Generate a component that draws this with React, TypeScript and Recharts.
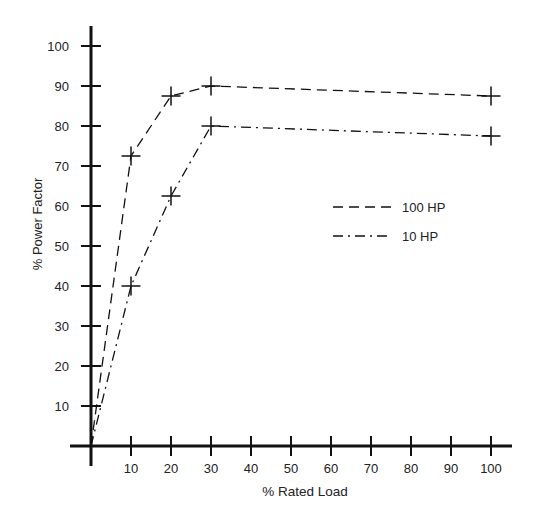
import React from 'react';
import { LineChart, Line, XAxis, YAxis, ReferenceLine, Legend } from 'recharts';

const loads = [0, 10, 20, 30, 100];
const hp100 = [0, 72.5, 87.5, 90, 87.5];
const hp10 = [0, 40, 62.5, 80, 77.5];
const xTicks = [10, 20, 30, 40, 50, 60, 70, 80, 90, 100];
const yTicks = [10, 20, 30, 40, 50, 60, 70, 80, 90, 100];
const seriesNames = ['100 HP', '10 HP'];
const seriesDash = ['10 6', '10 5 2 5'];

const data = loads.map((load, i) => ({ load, hp100: hp100[i], hp10: hp10[i] }));

const font = '"Liberation Sans", Arial, sans-serif';
const ink = '#111';

const PlusDot = (props: any) => {
  const { cx, cy } = props;
  if (cx == null || cy == null) return null;
  return (
    <g>
      <line x1={cx - 9.5} y1={cy} x2={cx + 9.5} y2={cy} stroke={ink} strokeWidth={1.5} />
      <line x1={cx} y1={cy - 9.5} x2={cx} y2={cy + 9.5} stroke={ink} strokeWidth={1.5} />
    </g>
  );
};

const renderLegend = () => (
  <div style={{ fontFamily: font, fontSize: 13, color: '#222' }}>
    {seriesNames.map((name, i) => (
      <div key={name} style={{ display: 'flex', alignItems: 'center', height: 20, marginBottom: 9 }}>
        <svg width={58} height={10} style={{ marginRight: 11 }}>
          <line x1={0} y1={5} x2={58} y2={5} stroke={ink} strokeWidth={1.3} strokeDasharray={seriesDash[i]} />
        </svg>
        <span>{name}</span>
      </div>
    ))}
  </div>
);

const YTitle = (props: any) => {
  const vb = props.viewBox || {};
  const x = (vb.x ?? 0) + 34;
  const y = (vb.y ?? 0) + vb.height / 2 - 22;
  return (
    <text x={x} y={y} transform={`rotate(-90, ${x}, ${y})`} textAnchor="middle"
      fontFamily={font} fontSize={13} fill="#222">
      % Power Factor
    </text>
  );
};

const XTitle = (props: any) => {
  const vb = props.viewBox || {};
  const x = (vb.x ?? 0) + vb.width / 2 + 14;
  const y = (vb.y ?? 0) + 30;
  return (
    <text x={x} y={y} textAnchor="middle" fontFamily={font} fontSize={13.5} fill="#222">
      % Rated Load
    </text>
  );
};

export default function App() {
  return (
    <div style={{ width: 550, height: 506, background: '#fff' }}>
      <LineChart width={550} height={506} data={data}
        margin={{ top: 18, right: 46, bottom: 18, left: 0 }}>
        <XAxis dataKey="load" type="number" domain={[-5.25, 105.25]} ticks={xTicks}
          axisLine={false} tickLine={false} tickSize={0} tickMargin={-2} height={30}
          interval={0} allowDataOverflow
          tick={{ fontFamily: font, fontSize: 13, fill: '#222' }}
          label={{ content: <XTitle /> }} />
        <YAxis type="number" domain={[-5, 105]} ticks={yTicks} width={62}
          axisLine={false} tickLine={false} tickSize={0} tickMargin={1}
          interval={0} allowDataOverflow
          tick={{ fontFamily: font, fontSize: 13, fill: '#222' }}
          label={{ content: <YTitle /> }} />
        <ReferenceLine x={0} stroke={ink} strokeWidth={3} />
        <ReferenceLine y={0} stroke={ink} strokeWidth={3} />
        {yTicks.map((t) => (
          <ReferenceLine key={'y' + t} segment={[{ x: -2.5, y: t }, { x: 2.5, y: t }]}
            stroke={ink} strokeWidth={2} ifOverflow="visible" />
        ))}
        {xTicks.map((t) => (
          <ReferenceLine key={'x' + t} segment={[{ x: t, y: -2.5 }, { x: t, y: 2.5 }]}
            stroke={ink} strokeWidth={2} ifOverflow="visible" />
        ))}
        <Line dataKey="hp100" name={seriesNames[0]} stroke={ink} strokeWidth={1.3}
          strokeDasharray={seriesDash[0]} dot={<PlusDot />} activeDot={false}
          isAnimationActive={false} />
        <Line dataKey="hp10" name={seriesNames[1]} stroke={ink} strokeWidth={1.3}
          strokeDasharray={seriesDash[1]} dot={<PlusDot />} activeDot={false}
          isAnimationActive={false} />
        <Legend layout="horizontal" verticalAlign="middle" align="center" content={renderLegend}
          wrapperStyle={{ position: 'absolute', left: 325, top: 189, width: 140, height: 60 }} />
      </LineChart>
    </div>
  );
}
